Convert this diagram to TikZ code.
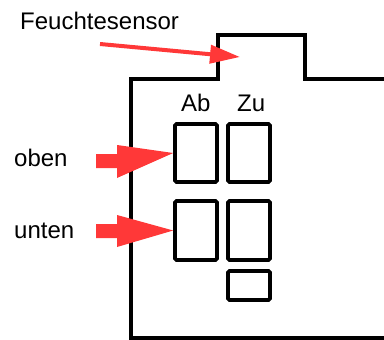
\documentclass[tikz,border=0pt]{standalone}
\usepackage{fontspec}
\setmainfont{Liberation Sans}
\usetikzlibrary{arrows.meta}
\definecolor{arrowred}{RGB}{255,56,56}
\begin{document}
\begin{tikzpicture}[x=1pt,y=-1pt,
  lbl/.style={inner sep=0pt,anchor=base west,font=\fontsize{24}{28}\selectfont},
  key/.style={draw,line width=3.6pt,rounded corners=1.5pt,minimum width=42pt,inner sep=0pt},
  outline/.style={line width=4pt},
  blockarrow/.style={fill=arrowred,draw=none}]
\useasboundingbox (0,0) rectangle (384,340);
% housing outline
\draw[outline,line join=miter] (386,338) -- (131,338) -- (131,79) -- (218,79) -- (218,35) -- (305,35) -- (305,79) -- (386,79);
% keys
\node[key,minimum height=58pt] (abo) at (196,153) {};
\node[key,minimum height=58pt] (zuo) at (249,153) {};
\node[key,minimum height=59pt] (abu) at (196,230.5) {};
\node[key,minimum height=59pt] (zuu) at (249,230.5) {};
\node[key,minimum height=29pt] (extra) at (249,285.5) {};
% labels
\node[lbl] (fs) at (20,30) {Feuchtesensor};
\node[lbl] (ab) at (181,111) {Ab};
\node[lbl] (zu) at (237,111) {Zu};
\node[lbl] (oben) at (14,167) {oben};
\node[lbl] (unten) at (14,238) {unten};
% sensor arrow
\coordinate (fsstart) at (100,44);
\coordinate (sensor) at (240,57);
\draw[arrowred,line width=4pt,-{Triangle[length=30pt,width=18pt]}] (fsstart) -- (sensor);
% block arrows
\fill[blockarrow] (96,154) -- (117,154) -- (117,145) -- (abo.west) -- (117,178) -- (117,168) -- (96,168) -- cycle;
\fill[blockarrow] (96,224) -- (117,224) -- (117,215) -- (abu.west) -- (117,247) -- (117,238) -- (96,238) -- cycle;
\end{tikzpicture}
\end{document}
